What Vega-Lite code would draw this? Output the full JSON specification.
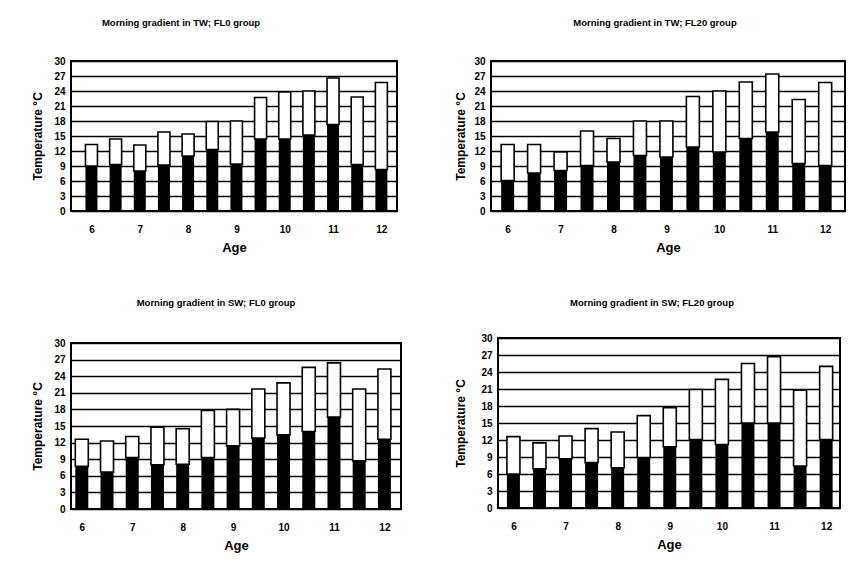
{
  "$schema": "https://vega.github.io/schema/vega-lite/v6.json",
  "background": "white",
  "padding": {"left": 30, "top": 16, "right": 2, "bottom": 2},
  "config": {
    "font": "Liberation Sans",
    "view": {"stroke": "black", "strokeWidth": 2},
    "axis": {"labelFont": "Liberation Sans", "labelFontWeight": "bold", "labelFontSize": 10, "labelColor": "black", "labelOverlap": false, "titleFont": "Liberation Sans", "titleColor": "black", "titleFontWeight": "bold", "domainColor": "black", "tickColor": "black"},
    "axisX": {"grid": false, "ticks": false, "labelPadding": 13, "titleFontSize": 13, "titlePadding": 7, "format": "d", "tickCount": 20},
    "axisY": {"grid": true, "gridColor": "black", "gridWidth": 1.6, "gridOpacity": 1, "zindex": 1, "ticks": false, "domain": false, "labelPadding": 6, "titleFontSize": 12, "tickCount": 20},
    "title": {"font": "Liberation Sans", "fontSize": 9.5, "fontWeight": "bold", "color": "black"}
  },
  "datasets": {
    "p1": [
      {"age": 6.0, "lower": 9.0, "upper": 13.3},
      {"age": 6.5, "lower": 9.3, "upper": 14.4},
      {"age": 7.0, "lower": 8.0, "upper": 13.2},
      {"age": 7.5, "lower": 9.2, "upper": 15.8},
      {"age": 8.0, "lower": 11.0, "upper": 15.4},
      {"age": 8.5, "lower": 12.3, "upper": 17.9},
      {"age": 9.0, "lower": 9.4, "upper": 18.0},
      {"age": 9.5, "lower": 14.4, "upper": 22.7},
      {"age": 10.0, "lower": 14.4, "upper": 23.8},
      {"age": 10.5, "lower": 15.2, "upper": 24.0},
      {"age": 11.0, "lower": 17.3, "upper": 26.6},
      {"age": 11.5, "lower": 9.3, "upper": 22.8},
      {"age": 12.0, "lower": 8.3, "upper": 25.7}
    ],
    "p2": [
      {"age": 6.0, "lower": 6.1, "upper": 13.3},
      {"age": 6.5, "lower": 7.6, "upper": 13.3},
      {"age": 7.0, "lower": 8.1, "upper": 11.8},
      {"age": 7.5, "lower": 9.1, "upper": 16.0},
      {"age": 8.0, "lower": 9.8, "upper": 14.5},
      {"age": 8.5, "lower": 11.1, "upper": 18.0},
      {"age": 9.0, "lower": 10.8, "upper": 18.0},
      {"age": 9.5, "lower": 12.8, "upper": 22.9},
      {"age": 10.0, "lower": 11.8, "upper": 24.0},
      {"age": 10.5, "lower": 14.5, "upper": 25.8},
      {"age": 11.0, "lower": 15.8, "upper": 27.4},
      {"age": 11.5, "lower": 9.5, "upper": 22.3},
      {"age": 12.0, "lower": 9.1, "upper": 25.7}
    ],
    "p3": [
      {"age": 6.0, "lower": 7.7, "upper": 12.6},
      {"age": 6.5, "lower": 6.7, "upper": 12.3},
      {"age": 7.0, "lower": 9.3, "upper": 13.1},
      {"age": 7.5, "lower": 8.0, "upper": 14.8},
      {"age": 8.0, "lower": 8.1, "upper": 14.5},
      {"age": 8.5, "lower": 9.3, "upper": 17.8},
      {"age": 9.0, "lower": 11.4, "upper": 18.0},
      {"age": 9.5, "lower": 12.8, "upper": 21.7},
      {"age": 10.0, "lower": 13.4, "upper": 22.8},
      {"age": 10.5, "lower": 14.0, "upper": 25.6},
      {"age": 11.0, "lower": 16.6, "upper": 26.4},
      {"age": 11.5, "lower": 8.7, "upper": 21.7},
      {"age": 12.0, "lower": 12.6, "upper": 25.3}
    ],
    "p4": [
      {"age": 6.0, "lower": 6.0, "upper": 12.6},
      {"age": 6.5, "lower": 6.9, "upper": 11.5},
      {"age": 7.0, "lower": 8.7, "upper": 12.7},
      {"age": 7.5, "lower": 8.0, "upper": 14.0},
      {"age": 8.0, "lower": 7.1, "upper": 13.4},
      {"age": 8.5, "lower": 8.9, "upper": 16.3},
      {"age": 9.0, "lower": 10.8, "upper": 17.7},
      {"age": 9.5, "lower": 12.1, "upper": 20.9},
      {"age": 10.0, "lower": 11.2, "upper": 22.7},
      {"age": 10.5, "lower": 15.0, "upper": 25.5},
      {"age": 11.0, "lower": 15.0, "upper": 26.7},
      {"age": 11.5, "lower": 7.4, "upper": 20.8},
      {"age": 12.0, "lower": 12.1, "upper": 25.0}
    ]
  },
  "columns": 2,
  "align": "none",
  "spacing": {"row": 41, "column": 51},
  "concat": [
    {
      "title": {"text": "Morning gradient in TW; FL0 group", "offset": 29, "dx": -53},
      "width": 326, "height": 150,
      "data": {"name": "p1"},
      "encoding": {
        "x": {"field": "age", "type": "quantitative", "scale": {"domain": [5.68, 12.22], "nice": false, "zero": false}, "axis": {"title": "Age", "values": [6, 7, 8, 9, 10, 11, 12]}}
      },
      "layer": [
        {"mark": {"type": "bar", "orient": "vertical", "width": 12, "color": "black"},
         "encoding": {"y": {"field": "lower", "type": "quantitative", "scale": {"domain": [0, 30], "nice": false}, "axis": {"title": "Temperature °C", "titlePadding": 9, "values": [0, 3, 6, 9, 12, 15, 18, 21, 24, 27, 30]}}}},
        {"mark": {"type": "bar", "orient": "vertical", "width": 12, "fill": "white", "stroke": "black", "strokeWidth": 1.6},
         "encoding": {"y": {"field": "lower", "type": "quantitative"}, "y2": {"field": "upper"}}}
      ]
    },
    {
      "title": {"text": "Morning gradient in TW; FL20 group", "offset": 29, "dx": -13},
      "width": 354, "height": 150,
      "data": {"name": "p2"},
      "encoding": {
        "x": {"field": "age", "type": "quantitative", "scale": {"domain": [5.78, 12.28], "nice": false, "zero": false}, "axis": {"title": "Age", "values": [6, 7, 8, 9, 10, 11, 12]}}
      },
      "layer": [
        {"mark": {"type": "bar", "orient": "vertical", "width": 13, "color": "black"},
         "encoding": {"y": {"field": "lower", "type": "quantitative", "scale": {"domain": [0, 30], "nice": false}, "axis": {"title": "Temperature °C", "titlePadding": 6, "values": [0, 3, 6, 9, 12, 15, 18, 21, 24, 27, 30]}}}},
        {"mark": {"type": "bar", "orient": "vertical", "width": 13, "fill": "white", "stroke": "black", "strokeWidth": 1.6},
         "encoding": {"y": {"field": "lower", "type": "quantitative"}, "y2": {"field": "upper"}}}
      ]
    },
    {
      "title": {"text": "Morning gradient in SW; FL0 group", "offset": 31, "dx": -20},
      "width": 330, "height": 166,
      "data": {"name": "p3"},
      "encoding": {
        "x": {"field": "age", "type": "quantitative", "scale": {"domain": [5.885, 12.23], "nice": false, "zero": false}, "axis": {"title": "Age", "values": [6, 7, 8, 9, 10, 11, 12]}}
      },
      "layer": [
        {"mark": {"type": "bar", "orient": "vertical", "width": 13, "color": "black"},
         "encoding": {"y": {"field": "lower", "type": "quantitative", "scale": {"domain": [0, 30], "nice": false}, "axis": {"title": "Temperature °C", "titlePadding": 9, "values": [0, 3, 6, 9, 12, 15, 18, 21, 24, 27, 30]}}}},
        {"mark": {"type": "bar", "orient": "vertical", "width": 13, "fill": "white", "stroke": "black", "strokeWidth": 1.6},
         "encoding": {"y": {"field": "lower", "type": "quantitative"}, "y2": {"field": "upper"}}}
      ]
    },
    {
      "title": {"text": "Morning gradient in SW; FL20 group", "offset": 26, "dx": -17},
      "width": 342, "height": 170,
      "data": {"name": "p4"},
      "encoding": {
        "x": {"field": "age", "type": "quantitative", "scale": {"domain": [5.8, 12.17], "nice": false, "zero": false}, "axis": {"title": "Age", "values": [6, 7, 8, 9, 10, 11, 12]}}
      },
      "layer": [
        {"mark": {"type": "bar", "orient": "vertical", "width": 13, "color": "black"},
         "encoding": {"y": {"field": "lower", "type": "quantitative", "scale": {"domain": [0, 30], "nice": false}, "axis": {"title": "Temperature °C", "titlePadding": 13, "values": [0, 3, 6, 9, 12, 15, 18, 21, 24, 27, 30]}}}},
        {"mark": {"type": "bar", "orient": "vertical", "width": 13, "fill": "white", "stroke": "black", "strokeWidth": 1.6},
         "encoding": {"y": {"field": "lower", "type": "quantitative"}, "y2": {"field": "upper"}}}
      ]
    }
  ]
}
